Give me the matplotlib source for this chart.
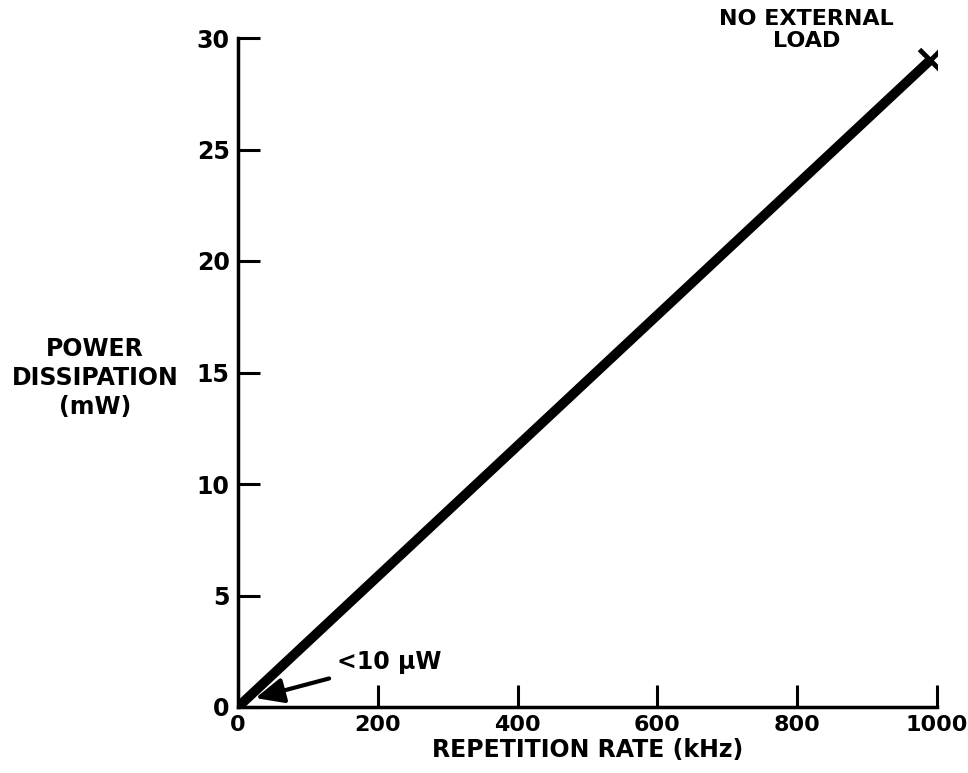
import matplotlib.pyplot as plt

# Power dissipation vs repetition rate (straight line, no external load)
rate_khz = [0, 990]
power_mw = [0, 29]

x_ticks = [0, 200, 400, 600, 800, 1000]
y_ticks = [0, 5, 10, 15, 20, 25, 30]
y_tick_labels = ["0", "5", "10", "15", "20", "25", "30"]

plt.rcParams["font.family"] = ["DejaVu Sans"]
plt.rcParams["font.weight"] = "bold"

fig = plt.figure(figsize=(9.68, 7.73), dpi=100)
ax = fig.add_axes([238 / 968, 1 - 707 / 773, 699 / 968, 669 / 773])

ax.plot(rate_khz, power_mw, color="black", linewidth=7, solid_capstyle="butt")
ax.plot(rate_khz[-1], power_mw[-1], marker="x", color="black",
        markersize=16, markeredgewidth=3.5)

ax.set_xlim(0, 1000)
ax.set_ylim(0, 30)
ax.set_xticks(x_ticks)
ax.set_yticks(y_ticks)
ax.set_yticklabels(y_tick_labels)

for side in ["top", "right"]:
    ax.spines[side].set_visible(False)
for side in ["left", "bottom"]:
    ax.spines[side].set_linewidth(2.5)

ax.tick_params(axis="both", direction="in", length=16, width=2.2, pad=6)
ax.tick_params(axis="y", labelsize=17)
ax.tick_params(axis="x", labelsize=16)

ax.set_xlabel("REPETITION RATE (kHz)", fontsize=17, fontweight="bold", labelpad=2)
fig.text(95 / 968, 1 - 378 / 773, "POWER\nDISSIPATION\n(mW)", fontsize=17,
         fontweight="bold", ha="center", va="center", multialignment="center",
         linespacing=1.25)

ax.text(813, 31.3, "NO EXTERNAL\nLOAD", fontsize=16, fontweight="bold",
        ha="center", va="top", multialignment="center", linespacing=1.1,
        clip_on=False)

ax.annotate("<10 \u03bcW", xy=(25, 0.4), xytext=(142, 2.0), fontsize=17,
            fontweight="bold", va="center", ha="left",
            arrowprops=dict(arrowstyle="-|>,head_length=1.0,head_width=0.45",
                            color="black", lw=3, shrinkA=4, shrinkB=0))

fig.savefig("out.png", dpi=100)
